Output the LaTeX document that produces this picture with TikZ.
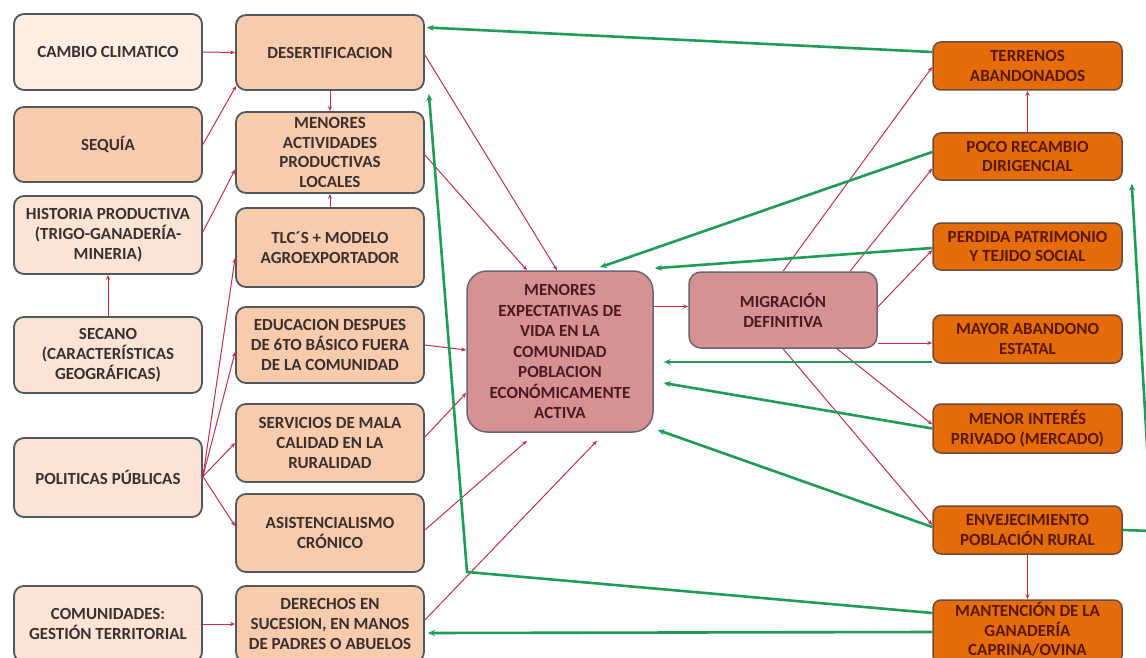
\documentclass[tikz,border=0pt]{standalone}
\usepackage{fontspec}
\setmainfont{Carlito}
\usetikzlibrary{calc,arrows.meta}
\definecolor{lightbg}{HTML}{FBE4D5}
\definecolor{lightest}{HTML}{FDEEE4}
\definecolor{peach}{HTML}{F8CBAD}
\definecolor{bord}{HTML}{4E5A60}
\definecolor{txt}{HTML}{3A3030}
\definecolor{ctrfill}{HTML}{D69192}
\definecolor{ctrbord}{HTML}{6B6478}
\definecolor{ctrtxt}{HTML}{4A1A20}
\definecolor{orfill}{HTML}{E46C0A}
\definecolor{orbord}{HTML}{6B4B3A}
\definecolor{ortxt}{HTML}{5A1800}
\definecolor{redline}{HTML}{C0304A}
\definecolor{greenline}{HTML}{1F9C55}
\tikzset{
  bx/.style={draw=bord, line width=1.8pt, rounded corners=10pt, align=center,
    inner sep=0pt, text=txt, font=\fontsize{17}{19.8}\selectfont\bfseries,
    minimum width=188pt},
  lbox/.style={bx, fill=lightbg},
  pbox/.style={bx, fill=peach},
  cbox/.style={bx, fill=ctrfill, draw=ctrbord, line width=1.5pt, text=ctrtxt, rounded corners=20pt},
  obox/.style={bx, fill=orfill, draw=orbord, line width=1.5pt, text=ortxt, rounded corners=8pt, minimum width=189pt},
  rarr/.style={draw=redline, line width=1pt, -{Stealth[length=5pt,width=4pt]}},
  garr/.style={draw=greenline, line width=2.6pt, -{Stealth[length=7pt,width=6pt]}}
}
\begin{document}
\begin{tikzpicture}[x=1pt,y=-1pt]
\useasboundingbox (0,0) rectangle (1146,658);
\clip (0,0) rectangle (1146,658);
\fill[white] (0,0) rectangle (1146,658);
% left column
\node[lbox, fill=lightest, minimum height=76pt] (cc) at (108,52) {CAMBIO CLIMATICO};
\node[pbox, minimum height=75pt] (seq) at (108,144.5) {SEQUÍA};
\node[lbox, minimum height=78pt] (hist) at (108,235) {HISTORIA PRODUCTIVA\\(TRIGO-GANADERÍA-\\MINERIA)};
\node[lbox, minimum height=76pt] (sec) at (108,355) {SECANO\\(CARACTERÍSTICAS\\GEOGRÁFICAS)};
\node[lbox, minimum height=79pt] (pol) at (108,477.5) {POLITICAS PÚBLICAS};
\node[lbox, minimum height=76pt] (com) at (108,624) {COMUNIDADES:\\GESTIÓN TERRITORIAL};
% middle column
\node[pbox, minimum height=75pt] (des) at (330,52.5) {DESERTIFICACION};
\node[pbox, minimum height=81pt] (mact) at (330,152.5) {MENORES\\ACTIVIDADES\\PRODUCTIVAS\\LOCALES};
\node[pbox, minimum height=79pt] (tlc) at (330,247.5) {TLC´S + MODELO\\AGROEXPORTADOR};
\node[pbox, minimum height=76pt] (edu) at (330,345) {EDUCACION DESPUES\\DE 6TO BÁSICO FUERA\\DE LA COMUNIDAD};
\node[pbox, minimum height=78pt] (serv) at (330,443) {SERVICIOS DE MALA\\CALIDAD EN LA\\RURALIDAD};
\node[pbox, minimum height=78pt] (asis) at (330,533) {ASISTENCIALISMO\\CRÓNICO};
\node[pbox, minimum height=76pt] (der) at (330,624) {DERECHOS EN\\SUCESION, EN MANOS\\DE PADRES O ABUELOS};
% center
\node[cbox, minimum width=186pt, minimum height=161pt, font=\fontsize{17}{20.5}\selectfont\bfseries] (ctr) at (560,351.5) {MENORES\\EXPECTATIVAS DE\\VIDA EN LA\\COMUNIDAD\\POBLACION\\ECONÓMICAMENTE\\ACTIVA};
\node[cbox, rounded corners=12pt, minimum height=76pt] (mig) at (783,310) {MIGRACIÓN\\DEFINITIVA};
% right column
\node[obox, minimum height=48pt] (ter) at (1027.5,66) {TERRENOS\\ABANDONADOS};
\node[obox, minimum height=47pt] (poco) at (1027.5,156.5) {POCO RECAMBIO\\DIRIGENCIAL};
\node[obox, minimum height=47pt] (perd) at (1027.5,246.5) {PERDIDA PATRIMONIO\\Y TEJIDO SOCIAL};
\node[obox, minimum height=48pt] (may) at (1027.5,339) {MAYOR ABANDONO\\ESTATAL};
\node[obox, minimum height=49pt] (menint) at (1027.5,428.5) {MENOR INTERÉS\\PRIVADO (MERCADO)};
\node[obox, minimum height=48pt] (env) at (1027.5,530) {ENVEJECIMIENTO\\POBLACIÓN RURAL};
\node[obox, minimum height=64pt, font=\fontsize{17}{19}\selectfont\bfseries] (mant) at (1027.5,632) {\raisebox{4pt}{\begin{tabular}{@{}c@{}}MANTENCIÓN DE LA\\GANADERÍA\\CAPRINA/OVINA\end{tabular}}};
% waypoints
\coordinate (gk) at (467,572);
\coordinate (gr) at (1152,531);
% red connectors
\draw[rarr] (cc.east) -- (des.west);
\draw[rarr] (seq.east) -- ($(des.south west)+(1,-5)$);
\draw[rarr] ($(hist.east)+(0,-3)$) -- ($(mact.west)+(0,17)$);
\draw[rarr] (sec.north) -- (hist.south);
\draw[rarr] (des.south) -- (mact.north);
\draw[rarr] (tlc.north) -- (mact.south);
\draw[rarr] ($(pol.east)+(0,-1)$) -- ($(tlc.west)+(0,10.5)$);
\draw[rarr] ($(pol.east)+(0,-1)$) -- ($(edu.west)+(0,7)$);
\draw[rarr] ($(pol.east)+(0,-1)$) -- (serv.west);
\draw[rarr] ($(pol.east)+(0,-1)$) -- ($(asis.west)+(0,-7)$);
\draw[rarr] (com.east) -- (der.west);
\draw[rarr] ($(des.east)+(0,2.5)$) -- ($(ctr.north)+(-3,0)$);
\draw[rarr] ($(mact.east)+(0,2.5)$) -- ($(ctr.north)+(-33,0)$);
\draw[rarr] (edu.east) -- ($(ctr.west)+(0,-1.5)$);
\draw[rarr] ($(serv.east)+(0,-6)$) -- ($(ctr.west)+(0,41.5)$);
\draw[rarr] ($(asis.east)+(0,-3)$) -- ($(ctr.south)+(-33,8)$);
\draw[rarr] ($(der.east)+(0,-4)$) -- ($(ctr.south)+(37,8)$);
\draw[rarr] ($(ctr.east)+(0,-45)$) -- ($(mig.west)+(0,-3.5)$);
\draw[rarr] (mig.north) -- ($(ter.west)+(0,1)$);
\draw[rarr] ($(mig.north)+(67,0)$) -- ($(poco.west)+(0,12)$);
\draw[rarr] ($(mig.east)+(0,-3)$) -- ($(perd.west)+(0,3.5)$);
\draw[rarr] ($(mig.east)+(0,33)$) -- ($(may.west)+(0,4)$);
\draw[rarr] ($(mig.south)+(54,0)$) -- ($(menint.west)+(0,-4)$);
\draw[rarr] (mig.south) -- ($(env.west)+(0,-5)$);
\draw[rarr] (env.south) -- (mant.north);
\draw[rarr] (poco.north) -- (ter.south);
% green connectors
\draw[garr] ($(ter.west)+(0,-14)$) -- ($(des.east)+(2,-25)$);
\draw[garr] ($(poco.west)+(0,-4.5)$) -- ($(ctr.north)+(40,-3)$);
\draw[garr] ($(perd.west)+(0,1.5)$) -- ($(ctr.north)+(95,-2)$);
\draw[garr] ($(may.west)+(0,23)$) -- ($(ctr.east)+(10,10.5)$);
\draw[garr] (menint.west) -- ($(ctr.east)+(10,31.5)$);
\draw[garr] ($(env.west)+(0,-3)$) -- ($(ctr.east)+(4,78.5)$);
\draw[garr] ($(mant.west)+(0,-19)$) -- (gk) -- ($(des.south east)+(4,3)$);
\draw[garr] (mant.west) -- ($(der.east)+(3,9)$);
\draw[garr] (env.east) -- (gr) -- ($(poco.south east)+(9,3)$);
\end{tikzpicture}
\end{document}
